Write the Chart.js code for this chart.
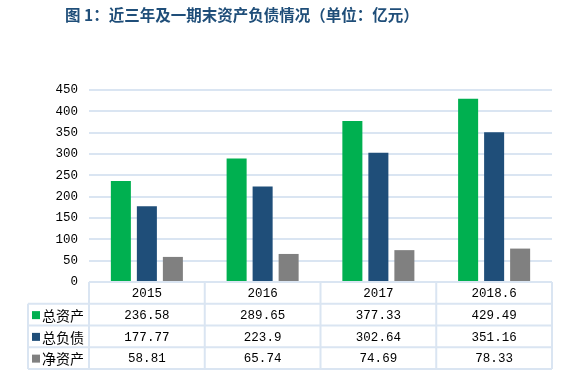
<!DOCTYPE html>
<html lang="zh">
<head>
    <meta charset="UTF-8">
    <title>近三年及一期末资产负债情况</title>
    <script src="https://cdn.jsdelivr.net/npm/chart.js"></script>
    <style>
        body { margin: 0; background: #fff; }
        .wrap { width: 561px; height: 385px; position: relative; }
    </style>
</head>
<body>
    <div class="wrap">
        <canvas id="assetChart" width="561" height="385"></canvas>
    </div>

    <script>
        const categories = ['2015', '2016', '2017', '2018.6'];
        const totalAssets = [236.58, 289.65, 377.33, 429.49];
        const totalDebt = [177.77, 223.9, 302.64, 351.16];
        const netAssets = [58.81, 65.74, 74.69, 78.33];
        const seriesNames = ['总资产', '总负债', '净资产'];
        const seriesColors = ['#00B050', '#1F4E79', '#808080'];
        const titleText = '图 1：近三年及一期末资产负债情况（单位：亿元）';

        const numFont = '12.5px "Liberation Mono", monospace';
        const cjkFont = '14px "Noto Sans CJK SC", sans-serif';
        const lineColor = '#DAE5F2';

        // draws the title and the data table under the plot
        const tablePlugin = {
            id: 'dataTable',
            afterDraw(chart) {
                const ctx = chart.ctx;
                const xs = chart.scales.x;
                const area = chart.chartArea;
                const rowH = 21.75;
                const top = area.bottom;
                const labelLeft = 28;
                const values = [totalAssets, totalDebt, netAssets];

                ctx.save();
                // title
                ctx.fillStyle = '#1F4E79';
                ctx.font = 'bold 15.5px "Noto Sans CJK SC", sans-serif';
                ctx.textAlign = 'left';
                ctx.textBaseline = 'middle';
                ctx.fillText(titleText, 65, 15);

                // grid of the table
                ctx.strokeStyle = lineColor;
                ctx.lineWidth = 2;
                ctx.beginPath();
                ctx.moveTo(area.left, top);
                ctx.lineTo(area.right, top);
                for (let r = 1; r <= 4; r++) {
                    ctx.moveTo(labelLeft, top + r * rowH);
                    ctx.lineTo(area.right, top + r * rowH);
                }
                const half = (xs.getPixelForValue(1) - xs.getPixelForValue(0)) / 2;
                ctx.moveTo(labelLeft, top + rowH);
                ctx.lineTo(labelLeft, top + 4 * rowH);
                for (let i = 0; i < categories.length; i++) {
                    const x = xs.getPixelForValue(i) - half;
                    ctx.moveTo(x, top);
                    ctx.lineTo(x, top + 4 * rowH);
                }
                ctx.moveTo(area.right, top);
                ctx.lineTo(area.right, top + 4 * rowH);
                ctx.stroke();

                // header row
                ctx.fillStyle = '#000';
                ctx.textAlign = 'center';
                ctx.font = numFont;
                categories.forEach((c, i) => {
                    ctx.fillText(c, xs.getPixelForValue(i), top + rowH / 2 + 1);
                });

                // series rows
                values.forEach((arr, r) => {
                    const cy = top + (r + 1.5) * rowH + 1;
                    ctx.fillStyle = seriesColors[r];
                    ctx.fillRect(32, cy - 4.5, 8, 8);
                    ctx.fillStyle = '#000';
                    ctx.textAlign = 'left';
                    ctx.font = cjkFont;
                    ctx.fillText(seriesNames[r], 42, cy);
                    ctx.textAlign = 'center';
                    ctx.font = numFont;
                    arr.forEach((v, i) => {
                        ctx.fillText(String(v), xs.getPixelForValue(i), cy);
                    });
                });
                ctx.restore();
            }
        };

        const ctx = document.getElementById('assetChart').getContext('2d');
        new Chart(ctx, {
            type: 'bar',
            data: {
                labels: categories,
                datasets: [
                    { label: seriesNames[0], data: totalAssets, backgroundColor: seriesColors[0] },
                    { label: seriesNames[1], data: totalDebt, backgroundColor: seriesColors[1] },
                    { label: seriesNames[2], data: netAssets, backgroundColor: seriesColors[2] }
                ]
            },
            options: {
                responsive: false,
                animation: false,
                devicePixelRatio: 1,
                layout: { padding: { top: 90, bottom: 103, left: 0, right: 9 } },
                datasets: {
                    bar: { categoryPercentage: 0.674, barPercentage: 0.77 }
                },
                plugins: {
                    legend: { display: false },
                    title: { display: false },
                    tooltip: { enabled: false }
                },
                scales: {
                    x: {
                        display: false
                    },
                    y: {
                        min: 0,
                        max: 450,
                        afterFit(scale) { scale.width = 89; },
                        ticks: {
                            stepSize: 50,
                            padding: 11,
                            color: '#000',
                            font: { family: '"Liberation Mono", monospace', size: 12.5 }
                        },
                        grid: { color: lineColor, lineWidth: 2, drawTicks: false },
                        border: { display: false }
                    }
                }
            },
            plugins: [tablePlugin]
        });
    </script>
</body>
</html>
